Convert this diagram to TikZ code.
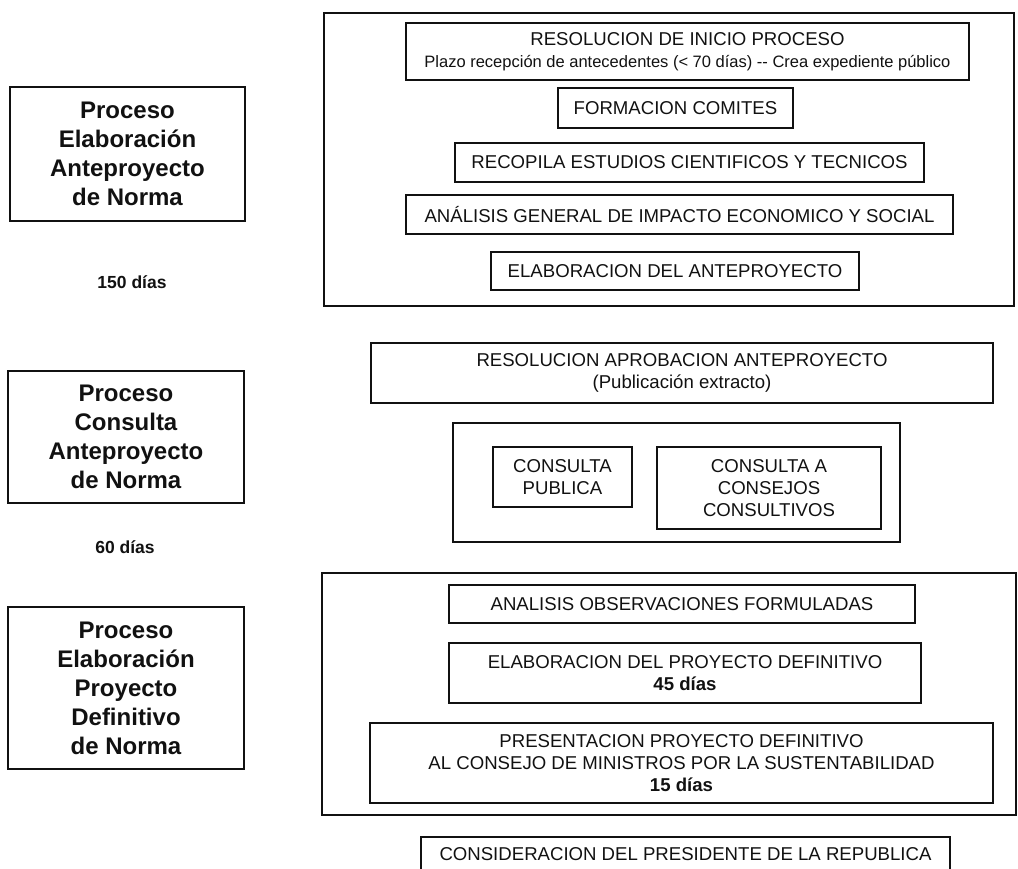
\documentclass[tikz,border=0pt]{standalone}
\usepackage{fontspec}
\setmainfont{Liberation Sans}
\usepackage{tikz}
\usetikzlibrary{positioning}
\definecolor{inkblack}{RGB}{17, 17, 17}

\tikzset{
    groupbox/.style={draw=inkblack, line width=1.4pt, inner sep=0pt},
    stepbox/.style={
        draw=inkblack,
        line width=1.2pt,
        inner sep=0pt,
        align=center,
        text=inkblack,
        font=\fontsize{18.6}{21.7}\selectfont
    },
    phasebox/.style={
        draw=inkblack,
        line width=1.2pt,
        inner sep=0pt,
        align=center,
        text=inkblack,
        font=\fontsize{24}{29}\selectfont\bfseries
    },
    daystext/.style={text=inkblack, font=\fontsize{17.5}{21}\selectfont\bfseries}
}

\begin{document}
\begin{tikzpicture}[x=1pt,y=-1pt]
\useasboundingbox (0,0) rectangle (1018,868);
\clip (0,0) rectangle (1018,868);

% phases
\node [phasebox, minimum width=235pt, minimum height=134pt] (phaseA) at (127.5,154) {
    Proceso\\Elaboración\\Anteproyecto\\de Norma
};
\node [daystext] (daysA) at (132,282) {150 días};
\node [phasebox, minimum width=236pt, minimum height=132pt] (phaseB) at (126,437) {
    Proceso\\Consulta\\Anteproyecto\\de Norma
};
\node [daystext] (daysB) at (125,547) {60 días};
\node [phasebox, minimum width=236pt, minimum height=162pt] (phaseC) at (126,688) {
    Proceso\\Elaboración\\Proyecto\\Definitivo\\de Norma
};

% anteproyecto
\node [groupbox, minimum width=690pt, minimum height=293pt] (groupA) at (669,159.5) {};
\node [stepbox, minimum width=563pt, minimum height=57pt] (inicio) at (687.5,51.5) {
    RESOLUCION DE INICIO PROCESO\\
    {\fontsize{16.5}{19}\selectfont Plazo recepción de antecedentes (< 70 días) -{}- Crea expediente público}
};
\node [stepbox, minimum width=235pt, minimum height=40pt] (comites) at (675.5,108) {FORMACION COMITES};
\node [stepbox, minimum width=469pt, minimum height=39pt] (estudios) at (689.5,162.5) {RECOPILA ESTUDIOS CIENTIFICOS Y TECNICOS};
\node [stepbox, minimum width=547pt, minimum height=39pt] (impacto) at (679.5,214.5) {ANÁLISIS GENERAL DE IMPACTO ECONOMICO Y SOCIAL};
\node [stepbox, minimum width=368pt, minimum height=38pt] (antepro) at (675,271) {ELABORACION DEL ANTEPROYECTO};

% consulta
\node [stepbox, minimum width=622pt, minimum height=60pt] (aprobacion) at (682,373) {
    RESOLUCION APROBACION ANTEPROYECTO\\(Publicación extracto)
};
\node [groupbox, line width=1.2pt, minimum width=447pt, minimum height=119pt] (groupB) at (676.5,482.5) {};
\node [stepbox, minimum width=139pt, minimum height=60pt] (publica) at (562.5,477) {CONSULTA\\PUBLICA};
\node [stepbox, minimum width=224pt, minimum height=82pt] (consejos) at (769,488) {CONSULTA A\\CONSEJOS\\CONSULTIVOS};

% proyecto definitivo
\node [groupbox, minimum width=694pt, minimum height=242pt] (groupC) at (669,694) {};
\node [stepbox, minimum width=466pt, minimum height=38pt] (observ) at (682,604) {ANALISIS OBSERVACIONES FORMULADAS};
\node [stepbox, minimum width=472pt, minimum height=60pt] (definitivo) at (685,673) {
    ELABORACION DEL PROYECTO DEFINITIVO\\\textbf{45 días}
};
\node [stepbox, minimum width=623pt, minimum height=80pt] (ministros) at (681.5,763) {
    PRESENTACION PROYECTO DEFINITIVO\\AL CONSEJO DE MINISTROS POR LA SUSTENTABILIDAD\\\textbf{15 días}
};
\node [stepbox, minimum width=529pt, minimum height=34pt] (presidente) at (685.5,854) {CONSIDERACION DEL PRESIDENTE DE LA REPUBLICA};
\end{tikzpicture}
\end{document}
